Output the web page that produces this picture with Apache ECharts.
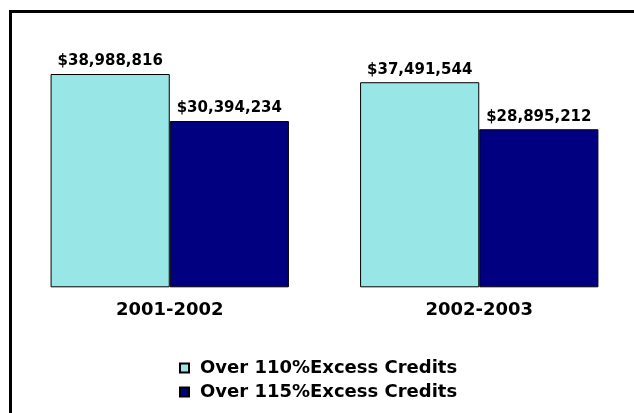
<!DOCTYPE html>
<html>
<head>
<meta charset="utf-8">
<script src="https://cdn.jsdelivr.net/npm/echarts@6/dist/echarts.min.js"></script>
<style>
  html, body { margin: 0; padding: 0; background: #fff; }
  #wrap { position: relative; width: 634px; height: 413px; overflow: hidden; }
  #frame { position: absolute; left: 9px; top: 10px; width: 640px; height: 420px;
           border-left: 3px solid #000; border-top: 3px solid #000; box-sizing: border-box; }
  #chart { position: absolute; left: 0; top: 0; width: 634px; height: 413px; }
</style>
</head>
<body>
<div id="wrap">
  <div id="frame"></div>
  <div id="chart"></div>
</div>
<script>
const categories = ['2001-2002', '2002-2003'];
const seriesNames = ['Over 110%Excess Credits', 'Over 115%Excess Credits'];
const over110 = [38988816, 37491544];
const over115 = [30394234, 28895212];

const fmt = v => '$' + String(v).replace(/\B(?=(\d{3})+(?!\d))/g, ',');
const FONT = 'DejaVu Sans';

const chart = echarts.init(document.getElementById('chart'), null, { renderer: 'canvas' });
const labelCfg = {
  show: true, position: 'top', distance: 5,
  color: '#000', fontFamily: FONT, fontWeight: 'bold', fontSize: 15,
  formatter: p => fmt(p.value)
};
chart.setOption({
  backgroundColor: 'transparent',
  animation: false,
  grid: { left: 15, right: 0, top: 68.5, bottom: 125.7 },
  xAxis: {
    type: 'category', data: categories,
    axisLine: { show: false }, axisTick: { show: false },
    axisLabel: { color: '#000', fontFamily: FONT, fontWeight: 'bold', fontSize: 18, margin: 14 }
  },
  yAxis: { type: 'value', min: 0, max: 40000000, show: false, splitLine: { show: false } },
  legend: {
    orient: 'vertical', left: 174, top: 354, itemWidth: 9, itemHeight: 9, itemGap: 6,
    icon: 'rect',
    textStyle: { color: '#000', fontFamily: FONT, fontWeight: 'bold', fontSize: 18, padding: [0, 0, 0, 6] },
    data: seriesNames
  },
  series: [
    { name: seriesNames[0], type: 'bar', data: over110, barGap: '0%', barCategoryGap: '23%',
      itemStyle: { color: '#99E6E6', borderColor: '#000', borderWidth: 1 }, label: labelCfg },
    { name: seriesNames[1], type: 'bar', data: over115,
      itemStyle: { color: '#000080', borderColor: '#000', borderWidth: 1 }, label: labelCfg }
  ]
});
</script>
</body>
</html>
